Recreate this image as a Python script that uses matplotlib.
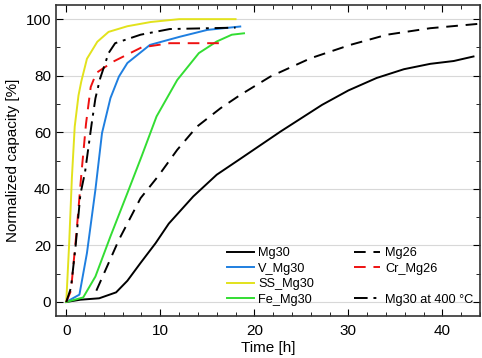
import numpy as np
import matplotlib.pyplot as plt
from matplotlib.lines import Line2D
from matplotlib.ticker import MultipleLocator

plt.rcParams["font.family"] = ["Liberation Sans", "DejaVu Sans"]

# data (time in h, normalized capacity in %)
mg30_t = [0, 1.5, 3.5, 5.3, 6.5, 7.9, 9.5, 10.9, 13.5, 16.0, 18.5, 22.8, 27.2, 30.0, 33.0, 35.9, 38.7, 41.2, 43.3]
mg30_c = [0, 0.8, 1.3, 3.4, 7.5, 13.8, 20.8, 27.7, 37.3, 45.0, 50.6, 60.3, 69.7, 74.8, 79.2, 82.3, 84.2, 85.2, 86.8]

mg26_t = [3.2, 5.6, 7.9, 9.8, 11.8, 13.9, 16.4, 18.5, 21.7, 26.0, 30.2, 34.1, 38.7, 43.7]
mg26_c = [4.0, 22.0, 36.7, 44.6, 53.8, 62.0, 68.5, 73.2, 79.7, 86.2, 90.9, 94.5, 96.8, 98.3]

v_t = [0, 1.4, 2.2, 3.1, 3.8, 4.7, 5.6, 6.5, 8.9, 12.1, 15.0, 18.5]
v_c = [0, 2.6, 17.3, 39.7, 59.7, 72.1, 79.7, 84.5, 90.9, 93.8, 96.2, 97.4]

ss_t = [0, 0.3, 0.6, 0.9, 1.3, 1.6, 2.2, 3.3, 4.5, 6.5, 9.0, 12.0, 18.0]
ss_c = [0, 20, 44, 62, 73, 78, 86, 92, 95.5, 97.5, 99, 100, 100]

cr_t = [0, 0.5, 1.1, 1.6, 2.1, 2.6, 3.2, 5.0, 8.0, 11.0, 16.5]
cr_c = [0, 4, 25, 45, 63, 76, 81, 85, 90, 91.5, 91.5]

fe_t = [0, 1.8, 3.1, 4.7, 6.5, 8.0, 9.6, 11.8, 14.1, 16.0, 17.6, 18.9]
fe_c = [0, 1.6, 9.0, 23.2, 38.5, 51.4, 65.6, 78.5, 88.0, 92.1, 94.5, 95.0]

hot_t = [0, 0.5, 1.0, 1.5, 2.0, 2.7, 3.1, 3.6, 4.5, 5.2, 7.9, 11.0, 18.0]
hot_c = [0, 5, 20, 38, 46, 63, 72, 79, 88, 91.5, 94.5, 96.5, 97]

fig, ax = plt.subplots(figsize=(4.82, 3.58), dpi=100)
fig.subplots_adjust(left=0.116, right=0.996, top=0.986, bottom=0.117)

lw = 1.4
l_mg30, = ax.plot(mg30_t, mg30_c, color="black", lw=lw, label="Mg30")
l_v, = ax.plot(v_t, v_c, color="#1f7fe0", lw=lw, label="V_Mg30")
l_ss, = ax.plot(ss_t, ss_c, color="#e2e21c", lw=lw, label="SS_Mg30")
l_fe, = ax.plot(fe_t, fe_c, color="#33dd33", lw=lw, label="Fe_Mg30")
l_mg26, = ax.plot(mg26_t, mg26_c, color="black", lw=lw, ls=(0, (6, 4)), label="Mg26")
l_cr, = ax.plot(cr_t, cr_c, color="#ee1111", lw=lw, ls=(0, (6, 4)), label="Cr_Mg26")
l_hot, = ax.plot(hot_t, hot_c, color="black", lw=lw, ls=(0, (7, 3, 1.5, 3)), label="Mg30 at 400 \u00b0C")
blank = Line2D([], [], color="none", label=" ")

ax.set_xlim(-1.1, 44)
ax.set_ylim(-5, 105)
ax.xaxis.set_major_locator(MultipleLocator(10))
ax.xaxis.set_minor_locator(MultipleLocator(2))
ax.yaxis.set_major_locator(MultipleLocator(20))
ax.yaxis.set_minor_locator(MultipleLocator(10))
ax.tick_params(which="both", direction="in", top=True, right=True, labelsize=11)
ax.tick_params(which="major", length=5)
ax.tick_params(which="minor", length=3)
ax.tick_params(axis="x", which="major", pad=6)
ax.grid(axis="y", which="major", color="#d8d8d8", lw=0.8)
ax.set_axisbelow(True)
for s in ax.spines.values():
    s.set_linewidth(1.2)
    s.set_color("#333333")

ax.set_xlabel("Time [h]", fontsize=11, labelpad=2)
ax.set_ylabel("Normalized capacity [%]", fontsize=11, labelpad=4)

handles = [l_mg30, l_v, l_ss, l_fe, l_mg26, l_cr, blank, l_hot]
ax.legend(handles=handles, labels=[h.get_label() for h in handles], ncol=2,
          frameon=False, fontsize=9.2, loc="upper left",
          bbox_to_anchor=(0.403, 0.222), handlelength=2.1, handletextpad=0.35,
          columnspacing=3.1, labelspacing=0.28, borderaxespad=0, borderpad=0)

fig.savefig("out.png")
